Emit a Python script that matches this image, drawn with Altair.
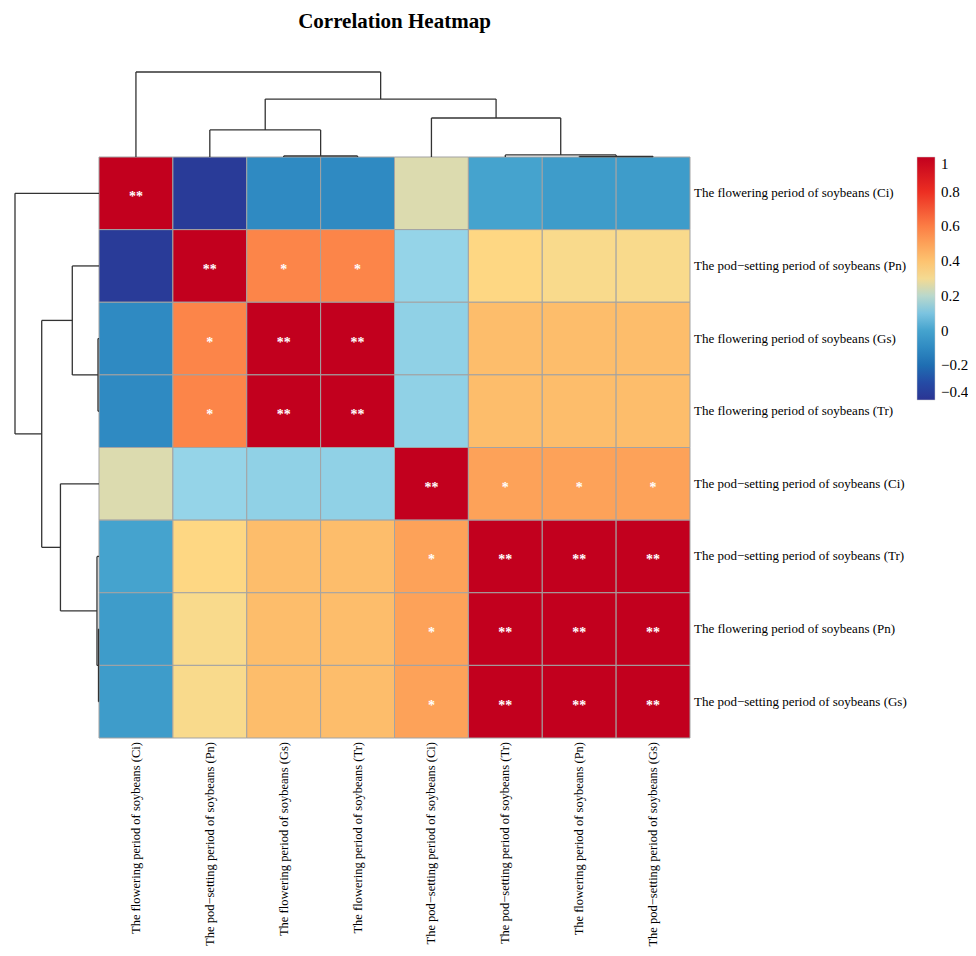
import altair as alt
import pandas as pd

# ---------------- data ----------------
LABELS = [
    "The flowering period of soybeans (Ci)",
    "The pod\u2212setting period of soybeans (Pn)",
    "The flowering period of soybeans (Gs)",
    "The flowering period of soybeans (Tr)",
    "The pod\u2212setting period of soybeans (Ci)",
    "The pod\u2212setting period of soybeans (Tr)",
    "The flowering period of soybeans (Pn)",
    "The pod\u2212setting period of soybeans (Gs)",
]

ROW_0 = [1.00, -0.37, -0.10, -0.10, 0.25, 0.00, -0.03, -0.03]
ROW_1 = [-0.37, 1.00, 0.58, 0.58, 0.15, 0.33, 0.31, 0.31]
ROW_2 = [-0.10, 0.58, 1.00, 1.00, 0.14, 0.42, 0.42, 0.42]
ROW_3 = [-0.10, 0.58, 1.00, 1.00, 0.14, 0.42, 0.42, 0.42]
ROW_4 = [0.25, 0.15, 0.14, 0.14, 1.00, 0.50, 0.50, 0.50]
ROW_5 = [0.00, 0.33, 0.42, 0.42, 0.50, 1.00, 1.00, 1.00]
ROW_6 = [-0.03, 0.31, 0.42, 0.42, 0.50, 1.00, 1.00, 1.00]
ROW_7 = [-0.03, 0.31, 0.42, 0.42, 0.50, 1.00, 1.00, 1.00]
CORR = [ROW_0, ROW_1, ROW_2, ROW_3, ROW_4, ROW_5, ROW_6, ROW_7]

SIG_0 = ["**", "", "", "", "", "", "", ""]
SIG_1 = ["", "**", "*", "*", "", "", "", ""]
SIG_2 = ["", "*", "**", "**", "", "", "", ""]
SIG_3 = ["", "*", "**", "**", "", "", "", ""]
SIG_4 = ["", "", "", "", "**", "*", "*", "*"]
SIG_5 = ["", "", "", "", "*", "**", "**", "**"]
SIG_6 = ["", "", "", "", "*", "**", "**", "**"]
SIG_7 = ["", "", "", "", "*", "**", "**", "**"]
SIG = [SIG_0, SIG_1, SIG_2, SIG_3, SIG_4, SIG_5, SIG_6, SIG_7]

# hierarchical clustering (same tree for rows and columns); nodes 8.. are merges
MERGE_LEFT = [2, 6, 5, 1, 4, 11, 0]
MERGE_RIGHT = [3, 7, 9, 8, 10, 12, 13]
MERGE_HEIGHT = [0.012, 0.006, 0.024, 0.318, 0.459, 0.682, 1.0]

COLOR_STOPS = [-0.4, -0.3, -0.2, -0.1, 0.0, 0.1, 0.15, 0.25, 0.32, 0.45, 0.6, 0.8, 1.0]
COLOR_RANGE = ["#2B3493", "#254BA5", "#1F6EB2", "#2F8AC2", "#45A3CE", "#7CC4E0",
               "#95D4E8", "#DCDBAF", "#FEDA86", "#FDB463", "#FC7E45", "#EC2E22", "#C2001E"]
LEGEND_TICKS = [-0.4, -0.2, 0, 0.2, 0.4, 0.6, 0.8, 1]

# ---------------- layout ----------------
PAGE_W, PAGE_H, MARGIN = 976, 956, 8
PAD_TOP = 40
PLOT_W = PAGE_W - 2 * MARGIN
PLOT_H = PAGE_H - 2 * MARGIN - PAD_TOP
HM_X0, HM_X1, HM_Y0, HM_Y1 = 99, 690, 157, 738
N = len(LABELS)
CW = (HM_X1 - HM_X0) / N
CH = (HM_Y1 - HM_Y0) / N
x_lo = -(HM_X0 - MARGIN) / CW
y_lo = -(HM_Y0 - MARGIN - PAD_TOP) / CH
X_DOM = [x_lo, x_lo + PLOT_W / CW]
Y_DOM = [y_lo, y_lo + PLOT_H / CH]
K_TOP = 85 / CH
K_LEFT = 84 / CW
FONT = "Liberation Serif"

xs = alt.Scale(domain=X_DOM, nice=False, zero=False)
ys = alt.Scale(domain=Y_DOM, nice=False, zero=False, reverse=True)

# ---------------- tables ----------------
cells = []
for i in range(N):
    for j in range(N):
        cells.append(dict(r=i, r2=i + 1, c=j, c2=j + 1, cx=j + 0.5, cy=i + 0.5,
                          v=CORR[i][j], s=SIG[i][j]))
cells = pd.DataFrame(cells)

pos = [i + 0.5 for i in range(N)]
hgt = [0.0] * N
segs = []
for l, r, h in zip(MERGE_LEFT, MERGE_RIGHT, MERGE_HEIGHT):
    pl, pr = pos[l], pos[r]
    segs.append((pl, h, pr, h))
    segs.append((pl, hgt[l], pl, h))
    segs.append((pr, hgt[r], pr, h))
    pos.append((pl + pr) / 2)
    hgt.append(h)
top_seg = pd.DataFrame([dict(x=a, y=-b * K_TOP, x2=c, y2=-d * K_TOP) for a, b, c, d in segs])
left_seg = pd.DataFrame([dict(x=-b * K_LEFT, y=a, x2=-d * K_LEFT, y2=c) for a, b, c, d in segs])

row_lab = pd.DataFrame(dict(x=[N + 4 / CW] * N, y=[i + 0.5 for i in range(N)], t=LABELS))
col_lab = pd.DataFrame(dict(x=[i + 0.5 for i in range(N)], y=[N + 4 / CH] * N, t=LABELS))

# ---------------- marks ----------------
heat = alt.Chart(cells).mark_rect(stroke="#A3A3A3", strokeWidth=1).encode(
    x=alt.X("c:Q", scale=xs, axis=None),
    x2="c2:Q",
    y=alt.Y("r:Q", scale=ys, axis=None),
    y2="r2:Q",
    color=alt.Color(
        "v:Q",
        scale=alt.Scale(domain=COLOR_STOPS, range=COLOR_RANGE, interpolate="rgb"),
        legend=alt.Legend(
            title=None, orient="none", legendX=917 - MARGIN, legendY=HM_Y0 - MARGIN - PAD_TOP,
            direction="vertical", gradientLength=243, gradientThickness=18,
            gradientStrokeColor="#CCCCCC", gradientStrokeWidth=0.5,
            values=LEGEND_TICKS, format=".1~f", labelFont=FONT, labelFontSize=15,
            labelOffset=6, labelColor="black", labelOverlap=False, tickCount=8,
        ),
    ),
)

stars = alt.Chart(cells).mark_text(color="white", font=FONT, fontSize=14, fontWeight="bold",
                                   baseline="middle", dy=4).encode(
    x=alt.X("cx:Q", scale=xs, axis=None),
    y=alt.Y("cy:Q", scale=ys, axis=None),
    text="s:N",
)

top_tree = alt.Chart(top_seg).mark_rule(color="#333333", strokeWidth=1.3).encode(
    x=alt.X("x:Q", scale=xs, axis=None), x2="x2:Q",
    y=alt.Y("y:Q", scale=ys, axis=None), y2="y2:Q",
)
left_tree = alt.Chart(left_seg).mark_rule(color="#333333", strokeWidth=1.3).encode(
    x=alt.X("x:Q", scale=xs, axis=None), x2="x2:Q",
    y=alt.Y("y:Q", scale=ys, axis=None), y2="y2:Q",
)

rlab = alt.Chart(row_lab).mark_text(align="left", baseline="middle", font=FONT,
                                    fontSize=13, color="black").encode(
    x=alt.X("x:Q", scale=xs, axis=None),
    y=alt.Y("y:Q", scale=ys, axis=None),
    text="t:N",
)
clab = alt.Chart(col_lab).mark_text(align="right", baseline="middle", angle=270, font=FONT,
                                    fontSize=12.5, color="black").encode(
    x=alt.X("x:Q", scale=xs, axis=None),
    y=alt.Y("y:Q", scale=ys, axis=None),
    text="t:N",
)

chart = alt.layer(heat, stars, top_tree, left_tree, rlab, clab).properties(
    width=PLOT_W,
    height=PLOT_H,
    autosize=alt.AutoSizeParams(type="none"),
    padding={"left": 0, "top": PAD_TOP, "right": 0, "bottom": 0},
    title=alt.TitleParams(
        text="Correlation Heatmap", font=FONT, fontSize=21, fontWeight="bold",
        anchor="middle", frame="group", dx=(HM_X0 + HM_X1) / 2 - (MARGIN + PLOT_W / 2),
        offset=16, color="black",
    ),
).configure_view(stroke=None)

chart.save("out.html", embed_options={"renderer": "svg", "actions": False})
